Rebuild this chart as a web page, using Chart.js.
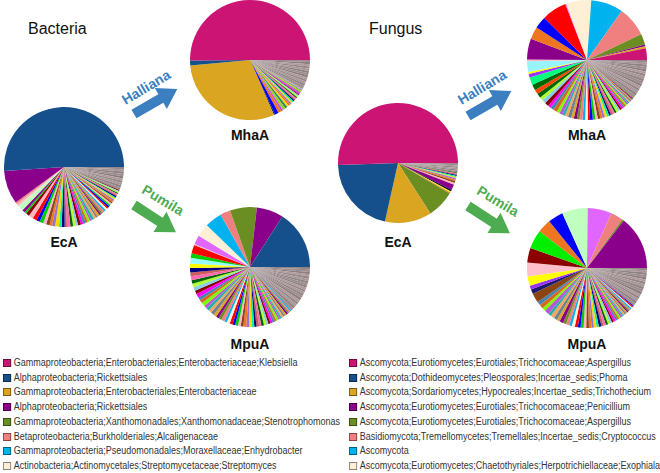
<!DOCTYPE html>
<html>
<head>
<meta charset="utf-8">
<script src="https://cdn.jsdelivr.net/npm/chart.js@4.4.0/dist/chart.umd.min.js"></script>
<style>
  body { margin: 0; background: #fff; font-family: "Liberation Sans", Arial, sans-serif; }
  #fig { position: relative; width: 660px; height: 473px; overflow: hidden; }
  canvas.pie { position: absolute; }
  .title { position: absolute; font-size: 16px; line-height: 1; color: #111; }
  .lbl { position: absolute; font-size: 14px; font-weight: bold; line-height: 1; color: #111; transform: translate(-50%, -50%); }
  .tag { position: absolute; font-size: 14px; font-weight: bold; line-height: 1; white-space: nowrap; }
  .leg { position: absolute; font-size: 10px; line-height: 1; color: #333; white-space: nowrap; transform-origin: 0 50%; }
  .leg i { display: inline-block; width: 7px; height: 6px; border: 1px solid rgba(0,0,0,0.45); margin-right: 3px; vertical-align: -1px; }
</style>
</head>
<body>
<div id="fig">
  <div class="title" style="left:28px; top:21px">Bacteria</div>
  <div class="title" style="left:369px; top:21px">Fungus</div>

  <svg width="660" height="473" style="position:absolute; left:0; top:0">
    <g fill="#3B7FC1">
      <polygon transform="translate(134,114) rotate(-30)" points="0,-5 31,-5 31,-12 50,0 31,12 31,5 0,5"/>
      <polygon transform="translate(468,116) rotate(-30)" points="0,-5 31,-5 31,-12 50,0 31,12 31,5 0,5"/>
    </g>
    <g fill="#4DAC4F">
      <polygon transform="translate(134,205) rotate(33)" points="0,-5 31,-5 31,-12 50,0 31,12 31,5 0,5"/>
      <polygon transform="translate(468,206) rotate(33)" points="0,-5 31,-5 31,-12 50,0 31,12 31,5 0,5"/>
    </g>
  </svg>
  <div class="tag" style="left:146px; top:87px; color:#3B7FC1; transform:translate(-50%,-50%) rotate(-31deg)">Halliana</div>
  <div class="tag" style="left:482px; top:87px; color:#3B7FC1; transform:translate(-50%,-50%) rotate(-31deg)">Halliana</div>
  <div class="tag" style="left:163px; top:200px; color:#4DAC4F; transform:translate(-50%,-50%) rotate(31deg)">Pumila</div>
  <div class="tag" style="left:498px; top:201px; color:#4DAC4F; transform:translate(-50%,-50%) rotate(31deg)">Pumila</div>

  <canvas class="pie" id="bEcA" width="120" height="120" style="left:4px; top:107px"></canvas>
  <canvas class="pie" id="bMhaA" width="120" height="120" style="left:190px; top:0px"></canvas>
  <canvas class="pie" id="bMpuA" width="120" height="120" style="left:190px; top:207px"></canvas>
  <canvas class="pie" id="fEcA" width="120" height="120" style="left:338px; top:103px"></canvas>
  <canvas class="pie" id="fMhaA" width="120" height="120" style="left:527px; top:0px"></canvas>
  <canvas class="pie" id="fMpuA" width="120" height="120" style="left:527px; top:208px"></canvas>

  <div class="lbl" style="left:64px; top:242px">EcA</div>
  <div class="lbl" style="left:250px; top:135px">MhaA</div>
  <div class="lbl" style="left:250px; top:344px">MpuA</div>
  <div class="lbl" style="left:398px; top:242px">EcA</div>
  <div class="lbl" style="left:587px; top:135px">MhaA</div>
  <div class="lbl" style="left:587px; top:344px">MpuA</div>
</div>

<script>
// taxon colours (same taxon keeps its colour in every pie)
const MAG = '#CB1474', DBLUE = '#15508C', GOLD = '#DAA520', PURP = '#8B008B',
      OLIVE = '#6B8E23', SALMON = '#F08080', SKY = '#00B2EE', CREAM = '#FFEFD5';

const bacteriaTaxa = [
  'Gammaproteobacteria;Enterobacteriales;Enterobacteriaceae;Klebsiella',
  'Alphaproteobacteria;Rickettsiales',
  'Gammaproteobacteria;Enterobacteriales;Enterobacteriaceae',
  'Alphaproteobacteria;Rickettsiales',
  'Gammaproteobacteria;Xanthomonadales;Xanthomonadaceae;Stenotrophomonas',
  'Betaproteobacteria;Burkholderiales;Alcaligenaceae',
  'Gammaproteobacteria;Pseudomonadales;Moraxellaceae;Enhydrobacter',
  'Actinobacteria;Actinomycetales;Streptomycetaceae;Streptomyces'
];
const fungusTaxa = [
  'Ascomycota;Eurotiomycetes;Eurotiales;Trichocomaceae;Aspergillus',
  'Ascomycota;Dothideomycetes;Pleosporales;Incertae_sedis;Phoma',
  'Ascomycota;Sordariomycetes;Hypocreales;Incertae_sedis;Trichothecium',
  'Ascomycota;Eurotiomycetes;Eurotiales;Trichocomaceae;Penicillium',
  'Ascomycota;Eurotiomycetes;Eurotiales;Trichocomaceae;Aspergillus',
  'Basidiomycota;Tremellomycetes;Tremellales;Incertae_sedis;Cryptococcus',
  'Ascomycota',
  'Ascomycota;Eurotiomycetes;Chaetothyriales;Herpotrichiellaceae;Exophiala'
];
const taxonColors = [MAG, DBLUE, GOLD, PURP, OLIVE, SALMON, SKY, CREAM];

// relative abundance (%), read counter-clockwise from 3 o'clock
// Bacteria EcA
const bEcAMain = [50, 8.8, 0.5, 0.7, 1.5, 0.8, 0.5, 0.9, 1.2];
const bEcAMainCol = [DBLUE, PURP, SALMON, '#FFB6C1', '#C1FFC1', PURP, '#00CD00', '#8B0000', '#FFB6C1'];
const bEcATail = [1.1,0.9,1.0,0.8,0.9,0.7,0.8,1.0,0.7,0.8,0.6,0.9,0.7,0.7,0.6,0.8,0.6,0.7,0.6,0.6,0.5,0.7,0.6,0.5,0.6,0.5,0.5,0.6,0.5,0.5,0.4,0.5,0.4,0.5,0.4,0.4,0.4,0.4,0.3,0.4,0.3,0.3,0.3,0.3,0.3,0.3];
const bEcARare = [0.7,0.6,0.6,0.6,0.6,0.6,0.6,0.6,0.6,0.6];

// Bacteria MhaA
const bMhaAMain = [50, 1.3, 30, 0.3, 1.0, 0.9, 0.5, 0.8, 0.6, 0.5];
const bMhaAMainCol = [MAG, DBLUE, GOLD, '#191970', '#0000FF', '#EE7621', '#BF3EFF', '#9ACD32', '#2E8B57', '#FFD700'];
const bMhaATail = [0.5,0.45,0.4,0.4,0.4,0.35,0.35,0.35,0.3,0.3,0.3,0.3,0.25,0.25,0.25,0.25,0.2,0.2,0.2];
const bMhaARare = [0.7,0.6,0.6,0.6,0.6,0.6,0.6,0.6,0.6,0.6,0.6,0.6,0.5];

// Bacteria MpuA
const bMpuAMain = [15.8, 7.2, 7.2, 2.7, 4.6, 3.5, 2.4, 0.3, 2.3, 1.2, 1.5, 1.2];
const bMpuAMainCol = [DBLUE, PURP, OLIVE, SALMON, SKY, CREAM, '#E066FF', '#FFB6C1', '#FF0000', '#00CD00', '#97FFFF', '#FFFF00'];
const bMpuATail = [1.2,1.0,1.1,0.9,1.0,1.0,0.9,1.1,0.8,0.9,1.0,0.8,0.9,0.8,0.9,0.8,0.8,0.8,0.9,0.7,0.8,0.8,0.7,0.8,0.7,0.7,0.8,0.7,0.7,0.7,0.6,0.7,0.6,0.7,0.6,0.6,0.6,0.6,0.6,0.5,0.6,0.5,0.5,0.5,0.5,0.5,0.5,0.4,0.4,0.4];
const bMpuARare = [0.7,0.7,0.7,0.7,0.7,0.7,0.6,0.6,0.6,0.6,0.6,0.6,0.6,0.6,0.6,0.7,0.6,0.6,0.7,0.6];

// Fungus EcA
const fEcAMain = [50.5, 21, 12.6, 7.4, 0.3, 0.3, 0.5, 1.5];
const fEcAMainCol = [MAG, DBLUE, GOLD, OLIVE, '#EE7621', '#FFFF00', '#0A0A33', PURP];
const fEcATail = [0.5,0.5,0.4,0.4,0.3,0.3,0.3,0.3,0.2,0.2];
const fEcARare = [0.4,0.4,0.4,0.4,0.3,0.3,0.3];

// Fungus MhaA
const fMhaAMain = [3.1, 0.5, 0.5, 2.8, 8, 8.5, 6.6, 0.3, 6.6, 3.2, 3.3, 5.5, 0.5, 2.8, 0.5, 1.0, 2.0, 1.5, 1.2];
const fMhaAMainCol = [MAG, GOLD, PURP, OLIVE, SALMON, SKY, CREAM, '#FF83FA', '#FF0000', '#0000FF', '#EE7621', PURP, '#FFB6C1', '#98F5FF', '#FFFF00', '#9B30FF', '#00FF7F', '#006400', '#FF4500'];
const fMhaATail = [1.2,0.9,1.0,1.1,0.8,0.9,1.0,0.8,0.9,0.7,0.8,0.9,0.7,0.8,0.7,0.8,0.7,0.7,0.6,0.7,0.7,0.6,0.7,0.6,0.6,0.6,0.6,0.5,0.6,0.5,0.5,0.6,0.5,0.5,0.5,0.4,0.5,0.4,0.4,0.4,0.4,0.4,0.3,0.3,0.3];
const fMhaARare = [0.7,0.7,0.7,0.7,0.7,0.7,0.7,0.7,0.7,0.7,0.6,0.6,0.6,0.6,0.6,0.6];

// Fungus MpuA
const fMpuAMain = [14.2, 0.5, 3.3, 6.3, 6.8, 4, 3.6, 5, 3.9, 3.6, 2.5, 1, 1.2, 2.5];
const fMpuAMainCol = [PURP, OLIVE, SALMON, '#E066FF', '#C1FFC1', '#0000FF', '#EE7621', '#00EE00', '#8B0000', '#FFC0CB', '#FFFF00', '#9B30FF', '#191970', '#8B4513'];
const fMpuATail = [1.0,1.1,0.9,1.2,0.8,1.0,0.9,0.8,1.0,0.8,0.9,0.7,0.8,0.8,0.7,0.8,0.7,0.7,0.7,0.6,0.7,0.6,0.7,0.6,0.6,0.6,0.5,0.6,0.5,0.6,0.5,0.5,0.5,0.5,0.4,0.5,0.4,0.4,0.4,0.4,0.3,0.4,0.3,0.3,0.3];
const fMpuARare = [0.7,0.7,0.7,0.7,0.7,0.7,0.7,0.7,0.7,0.7,0.6,0.6,0.6,0.6,0.6,0.6];

const tailPalette = ['#FF0000','#0000FF','#00CD00','#FFB6C1','#8B4513','#EE7621','#9370DB','#FFD700','#00FA9A','#000080',
  '#CD5C5C','#FF69B4','#006400','#ADFF2F','#87CEEB','#8B0000','#FF00FF','#4682B4','#D2691E','#7CFC00',
  '#BA55D3','#20B2AA','#F4A460','#708090','#DAA520','#8B008B','#6B8E23','#F08080','#00B2EE','#FFEFD5'];
const rarePalette = ['#9E8C8E','#8F8385','#A99799','#958789','#B09A9C','#8A7E80'];

function drawPie(id, main, mainCol, tail, rare, offset) {
  const values = main.concat(tail, rare);
  const colors = mainCol.concat(
    tail.map((v, i) => tailPalette[(i + offset) % tailPalette.length]),
    rare.map((v, i) => rarePalette[i % rarePalette.length])
  );
  // R-style pie: counter-clockwise from 3 o'clock -> reverse + rotate
  new Chart(document.getElementById(id), {
    type: 'pie',
    data: {
      labels: values.map((v, i) => 'OTU ' + (i + 1)).reverse(),
      datasets: [{
        data: values.slice().reverse(),
        backgroundColor: colors.slice().reverse(),
        borderWidth: 0,
        hoverOffset: 0,
      }],
    },
    options: {
      responsive: false,
      animation: false,
      events: [],
      rotation: 90,
      plugins: { legend: { display: false }, tooltip: { enabled: false } },
    },
  });
}

drawPie('bEcA', bEcAMain, bEcAMainCol, bEcATail, bEcARare, 0);
drawPie('bMhaA', bMhaAMain, bMhaAMainCol, bMhaATail, bMhaARare, 5);
drawPie('bMpuA', bMpuAMain, bMpuAMainCol, bMpuATail, bMpuARare, 9);
drawPie('fEcA', fEcAMain, fEcAMainCol, fEcATail, fEcARare, 3);
drawPie('fMhaA', fMhaAMain, fMhaAMainCol, fMhaATail, fMhaARare, 12);
drawPie('fMpuA', fMpuAMain, fMpuAMainCol, fMpuATail, fMpuARare, 17);

// legends
const fig = document.getElementById('fig');
function legend(taxa, x, scale) {
  taxa.forEach((t, i) => {
    const d = document.createElement('div');
    d.className = 'leg';
    d.style.left = x + 'px';
    d.style.top = (358 + i * 14.7) + 'px';
    d.style.transform = 'scaleX(' + scale + ')';
    d.innerHTML = '<i style="background:' + taxonColors[i] + '"></i>' + t;
    fig.appendChild(d);
  });
}
legend(bacteriaTaxa, 3, 0.9);
legend(fungusTaxa, 349, 0.9);
</script>
</body>
</html>
